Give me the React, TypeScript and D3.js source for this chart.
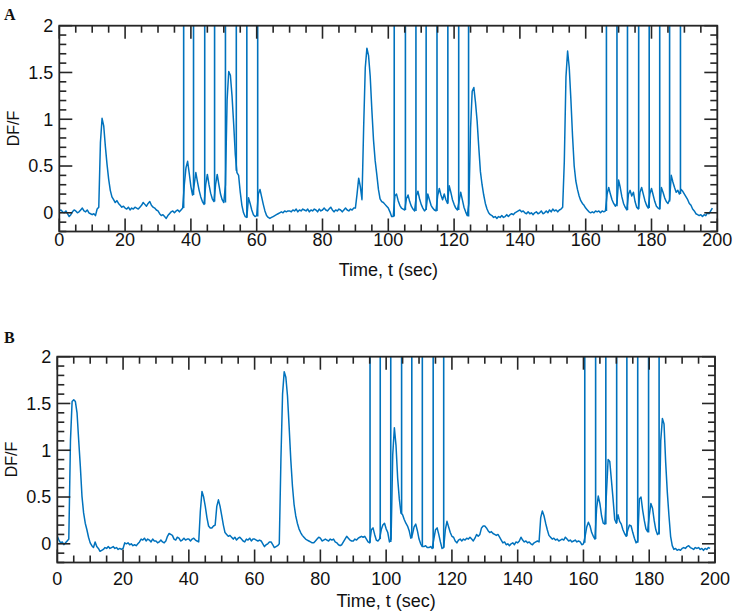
import React from "react";
import * as d3 from "d3";

// ---- data (DF/F sampled every 0.5 s) ----
const SAMPLE_STEP = 0.5;

const dffA: number[] = [
  0.02, 0.03, 0.01, 0.00, 0.02, -0.01, -0.04, -0.02, 0.01, 0.03, 0.02, 0.00, 0.01, 0.03, 0.05, 0.02, 0.01, 0.03, 0.00, -0.01,
  -0.02, -0.01, -0.03, 0.04, 0.06, 0.75, 1.01, 0.93, 0.71, 0.52, 0.36, 0.24, 0.17, 0.14, 0.11, 0.13, 0.10, 0.08, 0.06, 0.07,
  0.05, 0.04, 0.06, 0.03, 0.05, 0.04, 0.06, 0.05, 0.04, 0.06, 0.08, 0.11, 0.09, 0.07, 0.10, 0.12, 0.08, 0.06, 0.05, 0.03,
  0.02, -0.01, -0.03, -0.02, -0.04, -0.06, -0.03, -0.01, 0.01, 0.02, 0.00, 0.02, 0.03, 0.01, 0.03, 0.05, 0.30, 0.48, 0.55, 0.42,
  0.28, 0.19, 0.30, 0.43, 0.33, 0.24, 0.17, 0.12, 0.09, 0.30, 0.41, 0.30, 0.21, 0.15, 0.12, 0.30, 0.41, 0.30, 0.20, 0.14,
  0.11, 0.30, 1.20, 1.51, 1.47, 1.25, 0.95, 0.62, 0.43, 0.40, 0.22, 0.08, 0.00, -0.04, -0.05, 0.16, 0.10, 0.03, -0.02, -0.04,
  -0.03, 0.20, 0.25, 0.17, 0.09, 0.02, -0.03, -0.05, -0.06, -0.05, -0.04, -0.03, -0.02, -0.01, 0.00, 0.01, 0.00, 0.02, 0.01, 0.02,
  0.02, 0.01, 0.03, 0.02, 0.04, 0.01, 0.03, 0.02, 0.04, 0.03, 0.02, 0.04, 0.01, 0.03, 0.02, 0.04, 0.03, 0.01, 0.04, 0.02,
  0.03, 0.05, 0.03, 0.02, 0.04, 0.06, 0.03, 0.01, 0.03, 0.02, 0.04, 0.03, 0.01, 0.03, 0.05, 0.03, 0.02, 0.04, 0.03, 0.05,
  0.05, 0.20, 0.37, 0.28, 0.14, 0.90, 1.55, 1.76, 1.68, 1.46, 1.10, 0.78, 0.56, 0.41, 0.25, 0.15, 0.12, 0.11, 0.09, 0.07,
  0.05, 0.01, -0.04, -0.04, 0.18, 0.20, 0.13, 0.08, 0.05, 0.04, 0.03, 0.15, 0.19, 0.12, 0.07, 0.04, 0.02, 0.18, 0.23, 0.15,
  0.09, 0.05, 0.02, 0.04, 0.20, 0.14, 0.08, 0.05, 0.03, 0.02, 0.18, 0.26, 0.19, 0.14, 0.20, 0.14, 0.10, 0.29, 0.22, 0.14,
  0.09, 0.05, 0.03, 0.12, 0.22, 0.14, 0.06, 0.01, -0.03, 0.10, 0.90, 1.30, 1.34, 1.18, 0.98, 0.70, 0.44, 0.30, 0.19, 0.10,
  0.04, 0.00, -0.02, -0.03, -0.05, -0.04, -0.06, -0.04, -0.05, -0.03, -0.05, -0.04, -0.02, -0.04, -0.02, -0.01, -0.02, 0.00, 0.01, 0.02,
  0.03, 0.01, 0.02, 0.00, -0.01, 0.01, -0.01, 0.00, -0.02, 0.00, 0.01, -0.01, 0.00, 0.02, -0.01, 0.00, 0.02, 0.00, 0.03, 0.01,
  0.04, 0.02, 0.03, 0.01, 0.03, 0.04, 0.06, 0.55, 1.45, 1.73, 1.55, 1.21, 0.82, 0.50, 0.34, 0.25, 0.18, 0.13, 0.10, 0.08,
  0.05, 0.03, 0.01, 0.00, 0.01, 0.00, 0.02, 0.01, 0.02, 0.00, 0.02, 0.01, 0.02, 0.20, 0.27, 0.20, 0.14, 0.10, 0.07, 0.10,
  0.35, 0.27, 0.17, 0.10, 0.06, 0.03, 0.20, 0.24, 0.18, 0.22, 0.12, 0.06, 0.04, 0.22, 0.27, 0.20, 0.13, 0.08, 0.05, 0.20,
  0.26, 0.19, 0.12, 0.07, 0.05, 0.04, 0.27, 0.22, 0.16, 0.12, 0.10, 0.14, 0.40, 0.33, 0.27, 0.22, 0.24, 0.20, 0.25, 0.23,
  0.20, 0.17, 0.14, 0.10, 0.08, 0.04, 0.02, -0.01, -0.02, -0.03, -0.02, -0.04, -0.02, -0.03, 0.00, -0.01, 0.02, 0.05,
];

const spikeTimesA: number[] = [
  37.8, 40.8, 44.2, 47.2, 50.5, 53.8, 57.0, 60.3,
  101.8, 105.2, 108.4, 111.5, 114.8, 118.1, 121.4, 124.4,
  166.3, 169.5, 172.7, 176.1, 179.3, 182.5, 185.5, 188.8,
];
const spikeBaseA: number[] = [
  0.05, 0.19, 0.09, 0.12, 0.11, 0.45, -0.05, -0.04,
  -0.04, 0.03, 0.02, 0.03, 0.02, 0.10, 0.03, -0.04,
  0.02, 0.07, 0.03, 0.04, 0.05, 0.04, 0.12, 0.20,
];

const dffB: number[] = [
  0.08, 0.04, 0.01, 0.02, -0.01, 0.01, 0.03, 0.05, 1.10, 1.52, 1.54, 1.52, 1.40, 1.11, 0.83, 0.51, 0.33, 0.22, 0.15, 0.07,
  0.01, -0.02, -0.04, 0.02, -0.03, -0.05, -0.08, -0.07, -0.06, -0.04, -0.05, -0.03, -0.05, -0.04, -0.03, -0.05, -0.04, -0.06, -0.05, -0.06,
  -0.05, 0.01, 0.00, 0.01, -0.01, 0.00, -0.02, -0.01, -0.02, 0.00, 0.02, 0.05, 0.04, 0.06, 0.03, 0.05, 0.04, 0.02, 0.05, 0.03,
  0.03, 0.01, 0.02, 0.04, 0.02, 0.01, 0.03, 0.08, 0.11, 0.10, 0.09, 0.05, 0.04, 0.07, 0.06, 0.03, 0.04, 0.06, 0.04, 0.05,
  0.05, 0.03, 0.05, 0.06, 0.04, 0.03, 0.02, 0.35, 0.56, 0.50, 0.40, 0.28, 0.19, 0.17, 0.17, 0.19, 0.20, 0.40, 0.47, 0.40,
  0.30, 0.20, 0.12, 0.10, 0.08, 0.09, 0.07, 0.05, 0.07, 0.04, 0.06, 0.07, 0.05, 0.03, 0.02, 0.05, 0.04, 0.06, 0.03, 0.05,
  0.05, 0.04, 0.03, 0.04, 0.03, 0.00, -0.03, -0.01, 0.00, 0.02, 0.02, -0.01, -0.04, -0.03, -0.02, 0.00, 0.90, 1.60, 1.84, 1.78,
  1.58, 1.25, 0.90, 0.62, 0.42, 0.30, 0.22, 0.16, 0.12, 0.09, 0.07, 0.05, 0.04, 0.03, 0.02, 0.01, 0.01, 0.03, 0.05, 0.07,
  0.06, 0.03, 0.04, 0.05, 0.04, 0.03, 0.05, 0.04, 0.05, 0.02, 0.01, -0.01, -0.02, -0.01, 0.02, 0.05, 0.08, 0.06, 0.04, 0.03,
  0.03, 0.05, 0.04, 0.06, 0.07, 0.08, 0.07, 0.08, 0.05, 0.02, 0.01, 0.15, 0.17, 0.10, 0.04, 0.03, 0.05, 0.15, 0.20, 0.22,
  0.16, 0.12, 0.02, 0.05, 0.95, 1.24, 1.05, 0.70, 0.48, 0.33, 0.31, 0.26, 0.22, 0.19, 0.14, 0.06, 0.10, 0.18, 0.21, 0.14,
  0.05, 0.00, -0.03, -0.03, -0.02, -0.04, -0.04, -0.03, -0.05, 0.05, 0.15, 0.17, 0.10, 0.02, -0.05, -0.04, 0.15, 0.24, 0.18, 0.12,
  0.08, 0.07, 0.03, 0.01, 0.04, 0.05, 0.03, 0.05, 0.04, 0.06, 0.05, 0.07, 0.05, 0.03, 0.06, 0.10, 0.08, 0.10, 0.17, 0.19,
  0.19, 0.17, 0.14, 0.12, 0.13, 0.11, 0.10, 0.09, 0.10, 0.07, 0.04, 0.01, 0.02, -0.01, 0.00, -0.02, 0.00, 0.01, -0.01, 0.02,
  0.01, 0.03, 0.07, 0.04, 0.02, 0.03, 0.01, 0.02, 0.00, -0.01, 0.01, 0.02, 0.03, 0.02, 0.28, 0.35, 0.30, 0.22, 0.15, 0.09,
  0.07, 0.05, 0.06, 0.04, 0.05, 0.03, 0.04, 0.05, 0.04, 0.07, 0.05, 0.03, 0.04, 0.02, 0.03, 0.04, 0.02, 0.03, 0.02, -0.01,
  0.00, 0.08, 0.18, 0.23, 0.19, 0.12, 0.08, 0.05, 0.38, 0.51, 0.43, 0.30, 0.22, 0.21, 0.55, 0.90, 0.88, 0.68, 0.48, 0.26,
  0.22, 0.31, 0.24, 0.21, 0.15, 0.11, 0.08, 0.15, 0.20, 0.19, 0.12, 0.06, 0.01, 0.03, 0.48, 0.50, 0.36, 0.25, 0.16, 0.13,
  0.30, 0.43, 0.38, 0.25, 0.15, 0.10, 0.12, 1.10, 1.34, 1.28, 0.87, 0.55, 0.30, 0.08, -0.02, -0.06, -0.05, -0.07, -0.06, -0.07,
  -0.05, -0.04, -0.05, -0.03, -0.02, -0.04, -0.05, -0.06, -0.04, -0.05, -0.04, -0.06, -0.05, -0.07, -0.05, -0.06, -0.04, -0.05,
];

const spikeTimesB: number[] = [
  95.1, 98.2, 101.4, 104.7, 107.8, 111.0, 114.3, 117.5,
  160.4, 163.7, 166.8, 170.1, 173.2, 176.5, 179.8, 183.0,
];
const spikeBaseB: number[] = [
  0.01, 0.05, 0.02, 0.32, 0.06, -0.03, -0.05, -0.04,
  0.01, 0.05, 0.21, 0.22, 0.08, 0.01, 0.12, 0.10,
];

const xMajorTicks = [0, 20, 40, 60, 80, 100, 120, 140, 160, 180, 200];
const yMajorTicks = [0, 0.5, 1, 1.5, 2];
const yTickLabels = ["0", "0.5", "1", "1.5", "2"];
const X_DOMAIN: [number, number] = [0, 200];
const Y_DOMAIN: [number, number] = [-0.2, 2];

const LINE_COLOR = "#0072BD";
const AXIS_COLOR = "#262626";
const FONT = "'Liberation Sans', Arial, Helvetica, sans-serif";

type PanelProps = {
  id: string;
  letter: string;
  values: number[];
  spikeTimes: number[];
  spikeBase: number[];
  left: number;
  right: number;
  top: number;
  bottom: number;
  xLabelY: number;
  titleY: number;
  yTitleX: number;
  letterY: number;
};

function Panel(p: PanelProps) {
  const x = d3.scaleLinear().domain(X_DOMAIN).range([p.left, p.right]);
  const y = d3.scaleLinear().domain(Y_DOMAIN).range([p.bottom, p.top]);
  const pts: [number, number][] = p.values.map((v, i) => [i * SAMPLE_STEP, v]);
  const line = d3
    .line<[number, number]>()
    .x((d) => x(d[0]))
    .y((d) => y(d[1]));
  const xMinor = d3.range(0, 200.01, 5).filter((t) => t % 20 !== 0);
  const yMinor = d3.range(-2, 21, 1).map((k) => k / 10).filter((v) => Math.abs(v * 2 - Math.round(v * 2)) > 1e-6);
  const MAJ = 13;
  const MIN = 7;
  const clipId = `clip-${p.id}`;
  const tickStyle = { stroke: AXIS_COLOR, strokeWidth: 1.6 };
  return (
    <g>
      <defs>
        <clipPath id={clipId}>
          <rect x={p.left} y={p.top} width={p.right - p.left} height={p.bottom - p.top} />
        </clipPath>
      </defs>
      <text x={4} y={p.letterY} fontFamily="'Liberation Serif', 'Times New Roman', serif" fontWeight="bold" fontSize={16} fill="#111">
        {p.letter}
      </text>
      <g clipPath={`url(#${clipId})`}>
        <path d={line(pts) || ""} fill="none" stroke={LINE_COLOR} strokeWidth={1.5} strokeLinejoin="round" />
        {p.spikeTimes.map((t, i) => (
          <line key={i} x1={x(t)} x2={x(t)} y1={y(p.spikeBase[i])} y2={p.top - 2} stroke={LINE_COLOR} strokeWidth={1.6} />
        ))}
      </g>
      {/* ticks */}
      {xMajorTicks.map((t) => (
        <g key={`xm${t}`}>
          <line x1={x(t)} x2={x(t)} y1={p.bottom} y2={p.bottom - MAJ} {...tickStyle} />
          <line x1={x(t)} x2={x(t)} y1={p.top} y2={p.top + MAJ} {...tickStyle} />
        </g>
      ))}
      {xMinor.map((t) => (
        <g key={`xn${t}`}>
          <line x1={x(t)} x2={x(t)} y1={p.bottom} y2={p.bottom - MIN} {...tickStyle} />
          <line x1={x(t)} x2={x(t)} y1={p.top} y2={p.top + MIN} {...tickStyle} />
        </g>
      ))}
      {yMajorTicks.map((v) => (
        <g key={`ym${v}`}>
          <line x1={p.left} x2={p.left + MAJ} y1={y(v)} y2={y(v)} {...tickStyle} />
          <line x1={p.right} x2={p.right - MAJ} y1={y(v)} y2={y(v)} {...tickStyle} />
        </g>
      ))}
      {yMinor.map((v) => (
        <g key={`yn${v}`}>
          <line x1={p.left} x2={p.left + MIN} y1={y(v)} y2={y(v)} {...tickStyle} />
          <line x1={p.right} x2={p.right - MIN} y1={y(v)} y2={y(v)} {...tickStyle} />
        </g>
      ))}
      <rect x={p.left} y={p.top} width={p.right - p.left} height={p.bottom - p.top} fill="none" stroke={AXIS_COLOR} strokeWidth={1.8} />
      {/* tick labels */}
      {xMajorTicks.map((t) => (
        <text key={`xl${t}`} x={x(t)} y={p.xLabelY} textAnchor="middle" fontFamily={FONT} fontSize={18} fill="#111">
          {String(t)}
        </text>
      ))}
      {yMajorTicks.map((v, i) => (
        <text key={`yl${v}`} x={p.left - 6} y={y(v)} dy="0.36em" textAnchor="end" fontFamily={FONT} fontSize={18} fill="#111">
          {yTickLabels[i]}
        </text>
      ))}
      <text x={(p.left + p.right) / 2} y={p.titleY} textAnchor="middle" fontFamily={FONT} fontSize={18} fill="#111">
        Time, t (sec)
      </text>
      <text
        transform={`translate(${p.yTitleX},${(p.top + p.bottom) / 2}) rotate(-90)`}
        textAnchor="middle"
        dy="0.36em"
        fontFamily={FONT}
        fontSize={16}
        fill="#111"
      >
        DF/F
      </text>
    </g>
  );
}

export default function App() {
  return (
    <svg width={734} height={615} style={{ position: "absolute", left: 0, top: 0, background: "#fff" }}>
      <rect width={734} height={615} fill="#fff" />
      <Panel
        id="A"
        letter="A"
        values={dffA}
        spikeTimes={spikeTimesA}
        spikeBase={spikeBaseA}
        left={59.3}
        right={717.3}
        top={25.7}
        bottom={231.5}
        xLabelY={246}
        titleY={276}
        yTitleX={13.3}
        letterY={20}
      />
      <Panel
        id="B"
        letter="B"
        values={dffB}
        spikeTimes={spikeTimesB}
        spikeBase={spikeBaseB}
        left={57.3}
        right={715}
        top={356.7}
        bottom={562.5}
        xLabelY={585}
        titleY={606.5}
        yTitleX={11.7}
        letterY={343}
      />
    </svg>
  );
}
